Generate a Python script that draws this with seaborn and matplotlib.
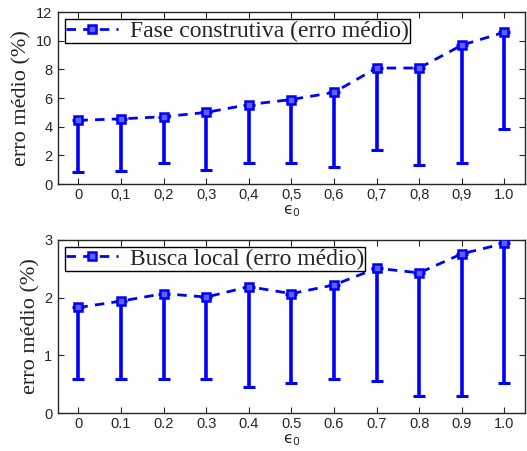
import numpy as np
import pandas as pd
import matplotlib
matplotlib.use('Agg')
import matplotlib.pyplot as plt
import seaborn as sns

# epsilon_0 values
eps0 = [0.0, 0.1, 0.2, 0.3, 0.4, 0.5, 0.6, 0.7, 0.8, 0.9, 1.0]

# Fase construtiva: mean error and lowest value of each bar
fase_mean = [4.45, 4.55, 4.7, 5.0, 5.55, 5.9, 6.4, 8.1, 8.1, 9.7, 10.6]
fase_low = [0.85, 0.9, 1.45, 0.95, 1.5, 1.5, 1.2, 2.4, 1.35, 1.45, 3.85]

# Busca local: mean error and lowest value of each bar
busca_mean = [1.83, 1.94, 2.07, 2.01, 2.19, 2.07, 2.22, 2.51, 2.43, 2.76, 2.94]
busca_low = [0.59, 0.59, 0.59, 0.59, 0.46, 0.53, 0.59, 0.55, 0.29, 0.29, 0.53]

labels_comma = ['0', '0,1', '0,2', '0,3', '0,4', '0,5', '0,6', '0,7', '0,8', '0,9', '1.0']
labels_dot = ['0', '0.1', '0.2', '0.3', '0.4', '0.5', '0.6', '0.7', '0.8', '0.9', '1.0']

sns.set_style('ticks')
plt.rcParams['font.family'] = ['Liberation Sans', 'DejaVu Sans']
plt.rcParams['mathtext.fontset'] = 'dejavusans'

blue = '#0000ff'
serif = ['Liberation Serif', 'DejaVu Serif']
fig = plt.figure(figsize=(5.27, 4.51), dpi=100)
ax1 = fig.add_axes([0.110, 0.592, 0.886, 0.381])
ax2 = fig.add_axes([0.110, 0.084, 0.886, 0.384])


def draw(ax, mean, low, label, ylim, yticks, xlabels):
    df = pd.DataFrame({'eps': eps0, 'mean': mean, 'low': low})
    err = [df['mean'] - df['low'], np.zeros(len(df))]
    ax.errorbar(df['eps'], df['mean'], yerr=err, fmt='none', ecolor=blue,
                elinewidth=2.6, capsize=4.5, capthick=2.2, zorder=2)
    sns.lineplot(data=df, x='eps', y='mean', ax=ax, color=blue, lw=2,
                 marker='s', markersize=5.5, markerfacecolor='#6060ff',
                 markeredgecolor=blue, markeredgewidth=1.8,
                 label=label, zorder=3)
    ax.lines[-1].set_dashes((3.4, 2.6))
    ax.set_xlim(-0.048, 1.048)
    ax.set_ylim(*ylim)
    ax.set_yticks(yticks)
    ax.set_xticks(eps0)
    ax.set_xticklabels(xlabels)
    ax.tick_params(direction='in', top=True, right=True, length=4,
                   width=0.8, labelsize=10.5, pad=4)
    ax.tick_params(axis='x', pad=3)
    for s in ax.spines.values():
        s.set_linewidth(1.0)
    ax.set_xlabel('ϵ$_0$', fontsize=11, labelpad=1,
                  family=['DejaVu Sans'])
    ax.set_ylabel('erro médio (%)', fontsize=16, family=serif, labelpad=3)
    leg = ax.legend(loc='upper left', frameon=True,
                    fancybox=False, handlelength=2.2, handletextpad=0.5,
                    borderpad=0.05, borderaxespad=0.3,
                    prop={'family': serif, 'size': 17})
    leg.get_frame().set_edgecolor('black')
    leg.get_frame().set_linewidth(1.0)
    leg.get_frame().set_alpha(1)


draw(ax1, fase_mean, fase_low, 'Fase construtiva (erro médio)', (0, 12),
     [0, 2, 4, 6, 8, 10, 12], labels_comma)
draw(ax2, busca_mean, busca_low, 'Busca local (erro médio)', (0, 3),
     [0, 1, 2, 3], labels_dot)

fig.savefig('out.png', dpi=100)
